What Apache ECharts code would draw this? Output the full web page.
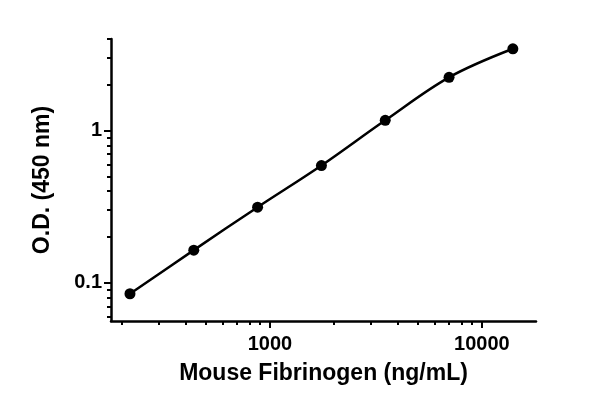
<!DOCTYPE html>
<html>
<head>
<meta charset="utf-8">
<script src="https://cdn.jsdelivr.net/npm/echarts@6/dist/echarts.min.js"></script>
<style>
  html, body { margin: 0; padding: 0; background: #fff; }
  #chart { width: 600px; height: 409px; }
</style>
</head>
<body>
<div id="chart"></div>
<script>
// standard concentrations (ng/mL) and measured OD
var concentrations = [218.75, 437.5, 875, 1750, 3500, 7000, 14000];
var odValues = [0.0846, 0.1637, 0.3135, 0.589, 1.168, 2.24, 3.45];

var xMajorTicks = [1000, 10000];
var xMinorTicks = [200, 300, 400, 500, 600, 700, 800, 900,
  2000, 3000, 4000, 5000, 6000, 7000, 8000, 9000];
var yMajorTicks = [0.1, 1];
var yMinorTicks = [0.06, 0.07, 0.08, 0.09, 0.2, 0.3, 0.4, 0.5, 0.6, 0.7, 0.8, 0.9, 2, 3, 4];

var FONT = "Liberation Sans";
var X_MIN = 178, X_MAX = 18000;
var Y_MIN = 0.056, Y_MAX = 4;

var chart = echarts.init(document.getElementById("chart"), null, { renderer: "canvas" });

var points = concentrations.map((c, i) => [c, odValues[i]]);

function logAxis(min, max, major, minor, isMinor) {
  return {
    type: "log",
    logBase: 10,
    min: min,
    max: max,
    splitLine: { show: false },
    axisLine: { show: !isMinor, onZero: false, lineStyle: { color: "#000", width: 2.5 } },
    axisTick: {
      show: true,
      inside: false,
      length: isMinor ? 4 : 7,
      customValues: isMinor ? minor : major,
      lineStyle: { color: "#000", width: 2 },
    },
    axisLabel: {
      show: !isMinor,
      customValues: major,
      color: "#000",
      fontFamily: FONT,
      fontWeight: "bold",
      fontSize: 20,
      formatter: (v) => String(+Number(v).toPrecision(6)),
    },
  };
}

var xMain = logAxis(X_MIN, X_MAX, xMajorTicks, xMinorTicks, false);
xMain.position = "bottom";
xMain.name = "Mouse Fibrinogen (ng/mL)";
xMain.nameLocation = "middle";
xMain.nameGap = 41;
xMain.nameTextStyle = { color: "#000", fontFamily: FONT, fontWeight: "bold", fontSize: 23 };
xMain.axisLabel.margin = 13;
var xMinor = logAxis(X_MIN, X_MAX, xMajorTicks, xMinorTicks, true);
xMinor.position = "bottom";

var yMain = logAxis(Y_MIN, Y_MAX, yMajorTicks, yMinorTicks, false);
yMain.position = "left";
yMain.name = "O.D. (450 nm)";
yMain.nameLocation = "middle";
yMain.nameGap = 57;
yMain.nameTextStyle = { color: "#000", fontFamily: FONT, fontWeight: "bold", fontSize: 23 };
yMain.axisLabel.margin = 9;
var yMinor = logAxis(Y_MIN, Y_MAX, yMajorTicks, yMinorTicks, true);
yMinor.position = "left";

chart.setOption({
  backgroundColor: "#fff",
  animation: false,
  grid: { left: 111, right: 64, top: 39, bottom: 88, containLabel: false, outerBoundsMode: "none" },
  xAxis: [xMain, xMinor],
  yAxis: [yMain, yMinor],
  series: [
    {
      name: "OD",
      type: "line",
      xAxisIndex: 0,
      yAxisIndex: 0,
      data: points,
      smooth: 0.35,
      symbol: "circle",
      symbolSize: 11,
      itemStyle: { color: "#000" },
      lineStyle: { color: "#000", width: 2.5 },
    },
  ],
});
</script>
</body>
</html>
